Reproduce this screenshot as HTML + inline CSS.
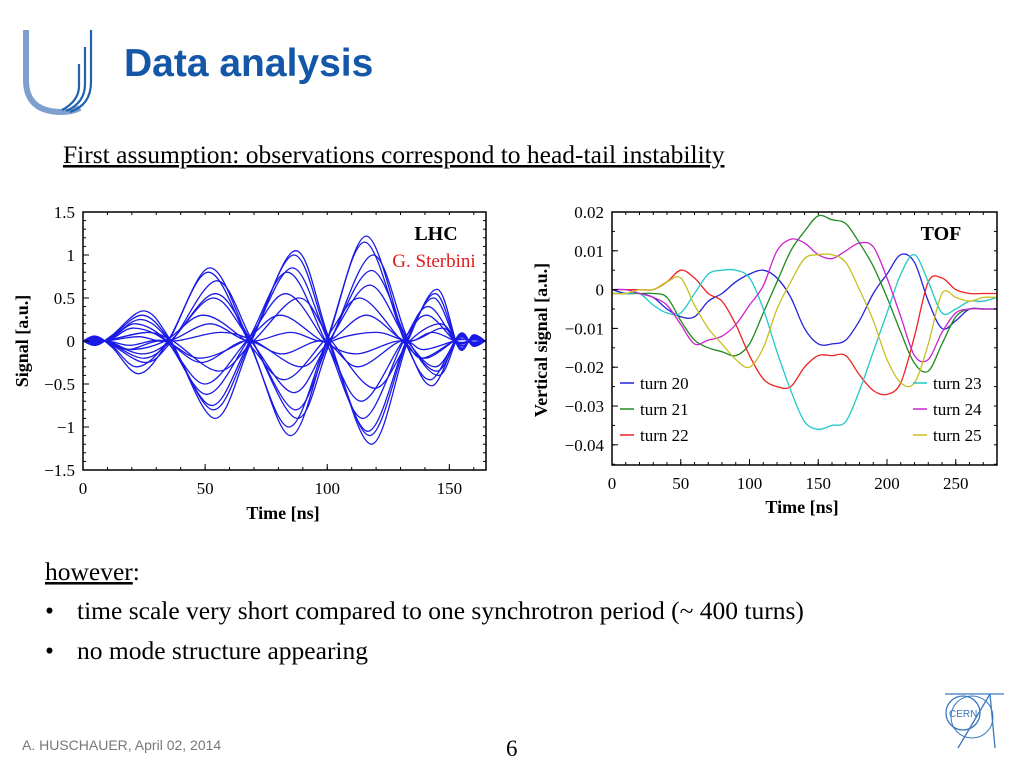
<!DOCTYPE html>
<html><head><meta charset="utf-8"><style>
html,body{margin:0;padding:0;background:#fff;}
svg{display:block;}
.serif{font-family:"Liberation Serif",serif;}
.sans{font-family:"Liberation Sans",sans-serif;}
</style></head><body>
<svg id="s" width="1024" height="768" viewBox="0 0 1024 768" xmlns="http://www.w3.org/2000/svg">
<g fill="none">
<path d="M26 30 V80 Q26 112 62 112 Q72 112 80 108" stroke="#7f9fcf" stroke-width="6"/>
<path d="M91 30 V82 Q91 105 70 112" stroke="#1f64ad" stroke-width="2.2"/>
<path d="M85 47 V84 Q85 103 66 111" stroke="#1f64ad" stroke-width="2.2"/>
<path d="M79 64 V86 Q79 101 62 110" stroke="#1f64ad" stroke-width="2.2"/>
</g>
<text x="124" y="76" class="sans" font-size="39" font-weight="bold" fill="#1457a8">Data analysis</text>
<text x="63" y="163" class="serif" font-size="25.5" fill="#000" text-decoration="underline">First assumption: observations correspond to head-tail instability</text>
<g id="lhc"></g>
<g id="tof"></g>
<text x="45" y="580" class="serif" font-size="25.5"><tspan text-decoration="underline">however</tspan>:</text>
<text x="45" y="619" class="serif" font-size="25.5">•</text>
<text x="77" y="619" class="serif" font-size="25.5">time scale very short compared to one synchrotron period (~ 400 turns)</text>
<text x="45" y="659" class="serif" font-size="25.5">•</text>
<text x="77" y="659" class="serif" font-size="25.5">no mode structure appearing</text>
<text x="22" y="750" class="sans" font-size="14" fill="#777">A. HUSCHAUER, April 02, 2014</text>
<text x="506" y="756" class="serif" font-size="23">6</text>
<g fill="none" stroke="#3a78bf" stroke-width="1.3">
<circle cx="963" cy="713" r="17"/>
<circle cx="972" cy="717" r="21" stroke-width="1"/>
<line x1="958" y1="748" x2="990" y2="694"/>
<line x1="990" y1="694" x2="995" y2="748"/>
<line x1="945" y1="694" x2="1004" y2="694"/>
<text x="949" y="717" font-family="Liberation Sans,sans-serif" font-size="10" fill="#3a78bf" stroke="none">CERN</text>
</g>
</svg>
<script>
// ---- LHC chart data ----
const lhcLobeTimes = [23, 52, 85, 116, 143];
const lhcNodeTimes = [35, 68, 100, 132];
const lhcAmps = [
 [0.35,-0.9,1.05,-1.2,0.6],[-0.38,0.85,-1.1,1.22,-0.52],[0.3,-0.8,1.0,-1.1,0.55],
 [-0.3,0.8,-1.0,1.15,-0.45],[0.25,-0.75,0.85,-1.05,0.5],[-0.25,0.7,-0.9,1.0,-0.4],
 [0.2,-0.62,0.8,-0.9,0.4],[-0.2,0.55,-0.8,0.82,-0.35],[0.15,-0.5,0.55,-0.7,0.3],
 [-0.15,0.5,-0.6,0.65,-0.3],[0.1,-0.35,0.5,-0.55,0.2],[-0.1,0.3,-0.45,0.5,-0.2],
 [0.05,0.2,0.1,0.3,0.1],[-0.05,-0.25,-0.15,-0.3,-0.1],[0.1,0.1,-0.3,0.1,0.15],
 [-0.1,-0.2,0.3,-0.15,-0.2]
];
const lhcShifts = [3,0,2,-1,1,4,-2,3,-3,2,5,-4,0,-5,6,-6];
const lhcXTicks = [0,50,100,150];
const lhcYTicks = [1.5,1,0.5,0,-0.5,-1,-1.5];
const lhcYLabels = ["1.5","1","0.5","0","\u22120.5","\u22121","\u22121.5"];
// ---- TOF chart data ----
const tofTimes = [0,10,20,30,40,50,60,70,80,90,100,110,120,130,140,150,160,170,180,190,200,210,220,230,240,250,260,270,280];
const turn20 = [0,-1,-1,-2,-5,-7,-7,-3,-1,2,4,5,3,-2,-10,-14,-14,-13,-8,-1,4,9,7,-3,-10,-8,-5,-5,-5];
const turn21 = [-1,-1,-1,-1,-2,-8,-13,-15,-16,-17,-14,-6,2,10,15,19,18,17,12,6,-2,-11,-19,-21,-14,-7,-5,-5,-5];
const turn22 = [0,0,0,0,2,5,3,-1,-3,-9,-17,-23,-25,-25,-20,-17,-17,-17,-22,-26,-27,-24,-12,2,3,0,-1,-1,-1];
const turn23 = [-1,-1,-1,-4,-6,-6,-1,4,5,5,3,-5,-16,-26,-34,-36,-35,-34,-26,-16,-6,4,9,2,-6,-5,-3,-3,-2];
const turn24 = [0,0,-1,-2,-4,-9,-14,-13,-12,-9,-4,1,10,13,12,9,8,10,12,11,3,-7,-17,-18,-11,-6,-5,-5,-5];
const turn25 = [-1,-1,0,0,2,3,-4,-10,-14,-18,-20,-15,-5,2,8,9,9,7,0,-8,-18,-24,-24,-14,-1,-2,-3,-2,-2];
const tofSeries = [turn20,turn21,turn22,turn23,turn24,turn25];
const tofNames = ["turn 20","turn 21","turn 22","turn 23","turn 24","turn 25"];
const tofColors = ["#2222dd","#1f8a1f","#ee2222","#22c8c8","#cc22cc","#c8c020"];
const tofXTicks = [0,50,100,150,200,250];
const tofYTicks = [0.02,0.01,0,-0.01,-0.02,-0.03,-0.04];
const tofYLabels = ["0.02","0.01","0","\u22120.01","\u22120.02","\u22120.03","\u22120.04"];

const NS="http://www.w3.org/2000/svg";
function mk(p,tag,attrs){const e=document.createElementNS(NS,tag);for(const k in attrs)e.setAttribute(k,attrs[k]);p.appendChild(e);return e;}
function cr(pts){let d="M"+pts[0][0].toFixed(1)+","+pts[0][1].toFixed(1);
 for(let i=0;i<pts.length-1;i++){const p0=pts[Math.max(0,i-1)],p1=pts[i],p2=pts[i+1],p3=pts[Math.min(pts.length-1,i+2)];
 const c1=[p1[0]+(p2[0]-p0[0])/6,p1[1]+(p2[1]-p0[1])/6],c2=[p2[0]-(p3[0]-p1[0])/6,p2[1]-(p3[1]-p1[1])/6];
 d+="C"+c1[0].toFixed(1)+","+c1[1].toFixed(1)+" "+c2[0].toFixed(1)+","+c2[1].toFixed(1)+" "+p2[0].toFixed(1)+","+p2[1].toFixed(1);}
 return d;}
function axes(g,L,T,R,B,sx,sy,xt,yt,ylab,xmin,xmax,xminor,ymin,ymax,yminor){
 const frame=mk(g,"rect",{x:L,y:T,width:R-L,height:B-T,fill:"none",stroke:"#000","stroke-width":1.5});
 
 
 for(let v=xmin;v<=xmax+1e-9;v+=xminor){const x=sx(v);mk(g,"line",{x1:x,y1:B,x2:x,y2:B-3,stroke:"#000"});mk(g,"line",{x1:x,y1:T,x2:x,y2:T+3,stroke:"#000"});}
 for(let v=ymin;v<=ymax+1e-9;v+=yminor){const y=sy(v);mk(g,"line",{x1:L,y1:y,x2:L+3,y2:y,stroke:"#000"});mk(g,"line",{x1:R,y1:y,x2:R-3,y2:y,stroke:"#000"});}
 xt.forEach(v=>{const x=sx(v);mk(g,"line",{x1:x,y1:B,x2:x,y2:B-6,stroke:"#000"});
  const t=mk(g,"text",{x:x,y:B+24,"text-anchor":"middle","font-size":17,"class":"serif"});t.textContent=v;
  
  });
 yt.forEach((v,i)=>{const y=sy(v);mk(g,"line",{x1:L,y1:y,x2:L+6,y2:y,stroke:"#000"});
  const t=mk(g,"text",{x:L-8,y:y+6,"text-anchor":"end","font-size":17,"class":"serif"});t.textContent=ylab[i];
  
  });
}
// LHC
(function(){
 const g=document.getElementById("lhc");const L=83,R=486,T=212,B=470;
 const sx=v=>L+(v-0)/(165-0)*(R-L), sy=v=>T+(1.5-v)/3*(B-T);
 const clip=mk(g,"clipPath",{id:"c1"});mk(clip,"rect",{x:L,y:T,width:R-L,height:B-T});
 const lg=mk(g,"g",{"clip-path":"url(#c1)"});
 lhcAmps.forEach((a,i)=>{const s=lhcShifts[i]*0.7, n=lhcShifts[i]*0.35;
  const pts=[[-2,a[0]*0.1],[5,-a[0]*0.15],[12,a[0]*0.2],[lhcLobeTimes[0]+s,a[0]],[lhcNodeTimes[0]+n,0],[lhcLobeTimes[1]+s,a[1]],[lhcNodeTimes[1]+n,0],[lhcLobeTimes[2]+s,a[2]],[lhcNodeTimes[2]+n,0],[lhcLobeTimes[3]+s,a[3]],[lhcNodeTimes[3]+n,0],[lhcLobeTimes[4]+s,a[4]],[154,-a[4]*0.15],[160,a[4]*0.12],[167,-a[4]*0.1]];
  const p=mk(lg,"path",{d:cr(pts.map(q=>[sx(q[0]),sy(q[1])])),fill:"none",stroke:"#1a1ae6","stroke-width":1.3});
  
  });
 axes(g,L,T,R,B,sx,sy,lhcXTicks,lhcYTicks,lhcYLabels,0,165,10,-1.5,1.5,0.1);
 const xl=mk(g,"text",{x:283,y:519,"text-anchor":"middle","font-size":18,"font-weight":"bold","class":"serif"});xl.textContent="Time [ns]";
 
 const yl=mk(g,"text",{x:0,y:0,"text-anchor":"middle","font-size":18,"font-weight":"bold","class":"serif",transform:"translate(28,341) rotate(-90)"});yl.textContent="Signal [a.u.]";
 
 const a=mk(g,"text",{x:436,y:240,"text-anchor":"middle","font-size":20,"font-weight":"bold","class":"serif"});a.textContent="LHC";
 
 const b=mk(g,"text",{x:434,y:267,"text-anchor":"middle","font-size":19,fill:"#e21b1b","class":"serif"});b.textContent="G. Sterbini";
 
})();
// TOF
(function(){
 const g=document.getElementById("tof");const L=612,R=997,T=212,B=465;
 const sx=v=>L+v/280*(R-L), sy=v=>T+(0.02-v)/0.0652*(B-T);
 const clip=mk(g,"clipPath",{id:"c2"});mk(clip,"rect",{x:L,y:T,width:R-L,height:B-T});
 const lg=mk(g,"g",{"clip-path":"url(#c2)"});
 tofSeries.forEach((ser,i)=>{
  const pts=ser.map((v,j)=>[sx(tofTimes[j]),sy(v/1000)]);
  const p=mk(lg,"path",{d:cr(pts),fill:"none",stroke:tofColors[i],"stroke-width":1.3});
  
  });
 axes(g,L,T,R,B,sx,sy,tofXTicks,tofYTicks,tofYLabels,0,280,10,-0.045,0.02,0.005);
 tofNames.forEach((n,i)=>{const col=i<3?0:1;const row=i%3;const lx=col?913:620,y=383+row*26;
  const e=mk(g,"g",{});
  
  
  mk(e,"line",{x1:lx,y1:y,x2:lx+14,y2:y,stroke:tofColors[i],"stroke-width":1.5});
  const t=mk(e,"text",{x:lx+20,y:y+6,"font-size":17,"class":"serif"});t.textContent=n;});
 const xl=mk(g,"text",{x:802,y:513,"text-anchor":"middle","font-size":18,"font-weight":"bold","class":"serif"});xl.textContent="Time [ns]";
 
 const yl=mk(g,"text",{x:0,y:0,"text-anchor":"middle","font-size":18,"font-weight":"bold","class":"serif",transform:"translate(547,340) rotate(-90)"});yl.textContent="Vertical signal [a.u.]";
 
 const a=mk(g,"text",{x:941,y:240,"text-anchor":"middle","font-size":20,"font-weight":"bold","class":"serif"});a.textContent="TOF";
 
})();
</script>
</body></html>
